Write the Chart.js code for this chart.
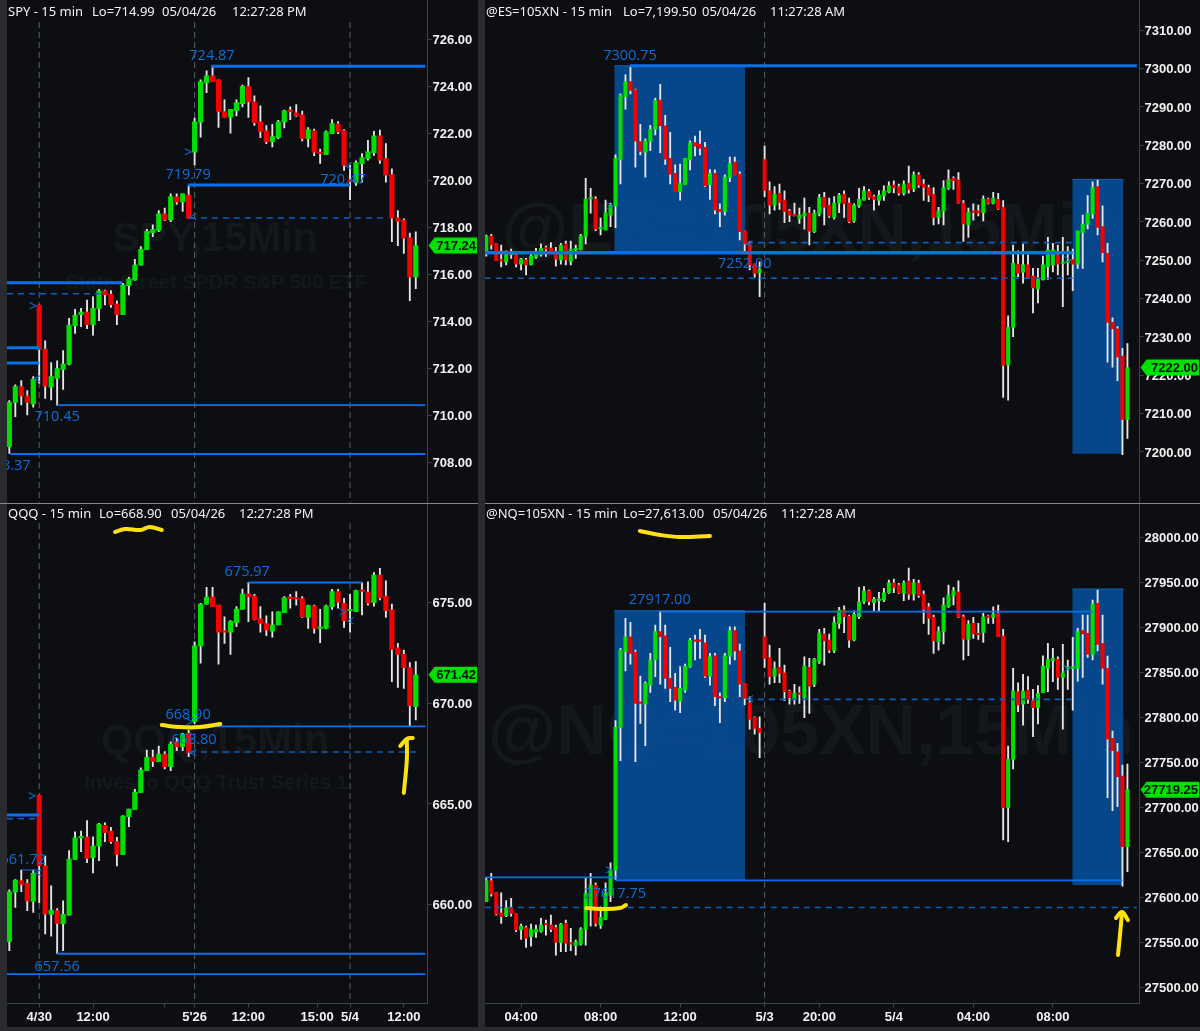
<!DOCTYPE html>
<html>
<head>
<meta charset="utf-8">
<title>Index futures 15 min</title>
<script src="https://cdn.jsdelivr.net/npm/chart.js@4"></script>
<style>
  html, body { margin: 0; padding: 0; background: #2a2b2e; width: 1200px; height: 1031px; overflow: hidden; }
  canvas { position: absolute; background: #0c0e11; }
  .sep { position: absolute; height: 1px; top: 503px; background: #85868a; }
</style>
</head>
<body>
<canvas id="spy" width="471" height="503" style="left:7px;top:0"></canvas>
<canvas id="es" width="715" height="503" style="left:485px;top:0"></canvas>
<canvas id="qqq" width="471" height="523" style="left:7px;top:504px"></canvas>
<canvas id="nq" width="715" height="523" style="left:485px;top:504px"></canvas>
<div class="sep" style="left:0;width:478px"></div>
<div class="sep" style="left:485px;width:715px"></div>
<script>
/* global Chart */

// bars are [open, high, low, close]
const spyBars = [
  [708.68,710.64,708.39,710.57],[710.56,711.31,709.96,711.24],[711.24,711.49,710.46,710.84],[710.85,711.07,710.03,710.56],
  [710.50,711.66,710.36,711.56],[714.71,714.71,711.38,712.82],[712.84,713.19,710.74,711.26],[711.21,712.26,710.67,711.66],
  [711.59,712.34,710.44,712.00],[711.97,712.77,711.12,712.20],[712.19,714.14,712.16,713.86],[713.83,714.53,713.50,714.28],
  [714.30,714.57,713.79,714.41],[714.41,714.92,713.70,713.87],[713.87,715.06,713.43,714.57],[714.55,715.38,714.04,715.31],
  [715.31,715.35,714.71,715.15],[715.18,715.32,714.61,714.72],[714.75,714.89,713.87,714.30],[714.30,715.63,714.30,715.56],
  [715.53,715.89,715.14,715.82],[715.77,716.65,715.77,716.41],[716.41,717.20,716.41,717.08],[717.06,717.93,717.06,717.84],
  [717.79,718.12,717.62,717.92],[717.88,718.73,717.83,718.59],[718.59,718.83,718.30,718.33],[718.33,719.44,718.26,719.32],
  [719.31,719.44,718.99,719.10],[719.10,719.44,718.69,719.44],[719.39,719.79,718.40,718.40],[721.21,722.66,720.67,722.51],
  [722.49,724.29,721.85,724.22],[724.17,724.68,723.75,724.46],[724.46,724.90,724.22,724.22],[724.29,724.29,722.27,722.95],
  [722.94,723.44,722.70,722.70],[722.70,723.04,722.02,723.04],[722.98,723.44,722.76,723.32],[723.28,724.07,723.14,724.02],
  [724.02,724.39,722.69,723.36],[723.36,723.61,722.35,722.47],[722.50,723.19,721.83,722.10],[722.12,722.35,721.58,721.66],
  [721.66,722.40,721.44,721.88],[721.83,722.57,721.79,722.50],[722.50,723.00,722.25,722.97],[722.99,723.14,722.60,722.94],
  [722.89,723.24,722.74,722.77],[722.80,722.96,721.69,721.79],[721.79,722.26,721.44,722.18],[722.12,722.20,721.07,721.21],
  [721.21,721.35,720.73,721.15],[721.11,722.12,721.11,722.08],[722.00,722.60,722.00,722.43],[722.42,722.52,722.00,722.08],
  [722.13,722.18,720.44,720.65],[720.04,720.65,719.19,719.96],[719.93,720.84,719.80,720.77],[720.72,721.15,719.94,720.98],
  [720.94,721.72,720.87,721.24],[721.19,722.10,721.08,721.91],[721.91,722.15,720.73,720.87],[720.94,721.58,719.94,720.23],
  [720.26,720.51,717.41,718.41],[718.42,718.73,717.24,718.27],[718.31,718.38,716.91,717.55],[717.58,717.77,714.90,715.89],
  [715.89,717.82,715.41,717.24]
];
const spyTicks = [708, 710, 712, 714, 716, 718, 720, 722, 724, 726];

const esBars = [
  [7251.8,7256.6,7251.1,7256.3],[7256.3,7256.8,7252.9,7254.0],[7254.3,7254.3,7249.9,7249.9],[7250.1,7254.0,7248.3,7249.8],
  [7249.6,7252.5,7248.8,7251.4],[7251.4,7252.9,7250.5,7251.8],[7251.4,7251.8,7248.3,7249.0],[7249.0,7250.5,7247.5,7250.3],
  [7250.1,7250.5,7246.2,7248.8],[7248.8,7252.2,7248.8,7251.1],[7250.8,7253.1,7250.5,7252.0],[7251.4,7254.3,7251.1,7253.1],
  [7253.2,7253.7,7251.0,7252.9],[7253.2,7254.6,7251.8,7252.0],[7252.3,7253.4,7248.5,7250.3],[7250.1,7254.4,7249.0,7254.0],
  [7254.3,7255.0,7248.8,7250.1],[7249.7,7255.0,7248.8,7252.9],[7252.7,7254.0,7250.5,7252.9],[7252.7,7256.8,7252.7,7256.4],
  [7256.2,7271.4,7254.3,7266.0],[7266.0,7268.8,7262.3,7266.2],[7266.0,7266.6,7257.7,7258.1],[7258.2,7261.0,7256.6,7258.3],
  [7257.9,7265.7,7257.9,7262.4],[7261.8,7264.9,7258.8,7264.4],[7264.2,7277.5,7258.5,7276.6],[7276.2,7293.4,7269.9,7293.1],
  [7292.7,7298.4,7289.4,7296.6],[7296.6,7300.5,7293.4,7294.3],[7294.5,7294.7,7274.3,7281.1],[7281.0,7285.5,7277.5,7278.4],
  [7278.2,7281.7,7271.7,7281.2],[7281.1,7285.2,7278.6,7284.2],[7284.2,7292.3,7282.7,7291.7],[7291.8,7295.9,7278.1,7285.1],
  [7285.1,7287.8,7275.0,7276.4],[7276.6,7283.4,7269.9,7272.5],[7272.7,7274.9,7267.9,7267.9],[7267.9,7275.1,7265.7,7270.1],
  [7269.7,7276.6,7269.7,7276.6],[7276.2,7281.2,7273.6,7280.7],[7280.7,7282.4,7277.2,7279.8],[7280.3,7283.7,7277.5,7279.2],
  [7279.5,7280.8,7269.2,7269.4],[7269.7,7273.7,7265.9,7272.7],[7272.7,7273.6,7262.1,7263.1],[7263.3,7264.7,7258.8,7262.7],
  [7262.7,7272.3,7261.8,7271.7],[7271.6,7276.9,7270.5,7275.3],[7275.6,7276.9,7272.3,7272.3],[7272.5,7273.1,7255.3,7257.5],
  [7257.7,7257.7,7252.3,7254.3],[7254.3,7254.9,7247.5,7248.8],[7249.0,7249.0,7245.6,7246.6],[7246.8,7249.6,7240.5,7247.6],
  [7276.3,7279.8,7266.6,7268.2],[7268.1,7270.5,7262.1,7264.4],[7264.4,7269.2,7263.1,7267.3],[7267.5,7269.9,7263.3,7265.1],
  [7265.7,7268.1,7259.8,7262.7],[7262.9,7263.3,7260.1,7261.8],[7261.8,7264.9,7261.6,7261.6],[7260.8,7263.6,7259.6,7261.8],
  [7261.6,7266.2,7258.1,7262.3],[7262.3,7263.8,7254.0,7257.6],[7257.5,7263.1,7257.2,7262.3],[7262.1,7267.2,7261.6,7266.4],
  [7266.4,7267.7,7259.2,7263.8],[7264.4,7266.2,7261.2,7261.6],[7261.2,7266.6,7260.7,7264.9],[7264.9,7267.5,7262.4,7267.0],
  [7267.2,7268.1,7261.2,7264.7],[7264.9,7266.2,7259.8,7260.1],[7260.3,7264.7,7259.9,7264.4],[7264.2,7268.8,7263.8,7265.9],
  [7265.7,7269.2,7265.7,7268.1],[7267.9,7268.5,7265.9,7266.4],[7266.6,7267.0,7263.1,7265.9],[7265.6,7268.2,7264.4,7267.0],
  [7266.8,7269.4,7265.6,7268.1],[7267.8,7270.5,7267.6,7269.4],[7269.6,7270.7,7267.6,7268.9],[7269.2,7269.9,7267.0,7267.5],
  [7267.5,7270.7,7267.0,7269.9],[7270.1,7274.6,7267.5,7268.5],[7268.6,7273.1,7267.9,7272.3],[7272.3,7272.9,7269.0,7269.6],
  [7269.9,7271.1,7265.6,7269.0],[7269.0,7269.6,7265.3,7267.0],[7267.2,7269.0,7259.2,7261.2],[7261.2,7263.8,7259.5,7262.9],
  [7262.9,7270.8,7259.2,7269.0],[7268.8,7273.6,7268.5,7271.1],[7271.4,7271.8,7268.5,7270.8],[7270.9,7272.9,7264.9,7265.0],
  [7264.9,7265.6,7254.9,7259.5],[7259.2,7263.6,7256.0,7262.6],[7262.9,7264.7,7260.5,7262.5],[7262.9,7264.4,7261.6,7262.3],
  [7262.4,7266.8,7260.3,7266.0],[7266.0,7266.2,7264.7,7264.9],[7264.9,7267.7,7264.7,7266.2],[7265.9,7267.5,7263.3,7263.5],
  [7263.8,7265.6,7214.2,7222.6],[7222.7,7235.5,7213.5,7232.5],[7232.5,7254.0,7230.1,7249.2],[7249.0,7252.5,7245.7,7246.6],
  [7246.9,7254.2,7244.0,7248.8],[7248.8,7251.4,7245.3,7245.5],[7245.9,7247.9,7236.3,7242.8],[7242.5,7247.9,7238.9,7245.0],
  [7244.9,7251.1,7244.9,7248.8],[7248.3,7256.0,7245.0,7252.7],[7248.8,7254.4,7247.0,7252.7],[7251.4,7254.0,7246.2,7249.0],
  [7249.2,7256.0,7237.9,7249.4],[7249.4,7253.6,7246.2,7249.9],[7250.2,7252.9,7242.1,7249.0],[7249.0,7257.6,7247.9,7257.6],
  [7257.2,7261.8,7247.9,7259.4],[7259.4,7266.9,7258.2,7262.3],[7262.1,7270.5,7260.9,7269.0],[7269.2,7270.9,7256.6,7258.6],
  [7258.8,7264.2,7249.6,7252.0],[7251.8,7254.4,7223.4,7233.8],[7233.8,7235.0,7222.1,7232.1],[7232.1,7232.7,7218.6,7224.8],
  [7225.0,7227.0,7199.3,7208.5],[7208.5,7228.3,7203.5,7222.0]
];
const esTicks = [7200, 7210, 7220, 7230, 7240, 7250, 7260, 7270, 7280, 7290, 7300, 7310];

const qqqBars = [
  [658.16,660.73,657.71,660.64],[660.62,661.25,659.86,661.22],[661.19,661.72,660.64,661.01],[661.06,661.25,659.70,660.18],
  [660.16,661.72,659.62,661.55],[665.44,665.44,660.10,661.93],[661.93,662.41,658.54,659.53],[659.52,660.94,658.44,659.73],
  [659.70,659.81,657.58,659.07],[659.04,660.19,657.71,659.52],[659.48,662.68,659.48,662.26],[662.25,663.62,662.25,663.32],
  [663.32,663.66,662.63,663.36],[663.36,664.17,662.08,662.30],[662.33,663.37,661.58,662.91],[662.91,664.04,662.18,664.00],
  [663.94,664.07,663.13,663.57],[663.66,663.84,663.04,663.13],[663.13,663.34,661.92,662.50],[662.48,664.42,662.48,664.40],
  [664.37,664.75,663.87,664.75],[664.72,665.73,664.72,665.59],[665.56,666.80,665.56,666.69],[666.65,667.68,666.65,667.32],
  [667.32,667.68,666.85,667.12],[667.10,667.88,667.10,667.48],[667.48,667.60,666.74,666.85],[666.85,668.09,666.65,667.98],
  [668.09,668.26,667.65,667.85],[667.85,668.51,667.65,668.47],[668.51,668.67,667.35,667.56],[669.09,673.06,669.00,672.86],
  [672.85,674.97,671.99,674.93],[674.93,675.76,674.93,675.28],[675.28,675.76,674.80,674.80],[674.88,674.88,671.94,673.53],
  [673.58,674.30,672.98,673.53],[673.53,674.11,672.43,674.06],[674.00,674.80,673.81,674.68],[674.67,675.68,674.67,675.43],
  [675.43,676.00,674.06,675.30],[675.33,675.41,674.14,674.17],[674.20,674.80,673.53,673.97],[673.96,674.35,673.36,673.64],
  [673.58,674.55,673.28,673.89],[673.89,674.55,673.89,674.55],[674.50,675.30,674.50,675.25],[675.25,675.41,674.72,675.20],
  [675.23,675.55,674.88,675.18],[675.20,675.30,674.27,674.30],[674.27,674.88,673.72,674.85],[674.83,674.88,673.48,673.72],
  [673.72,674.67,673.01,673.76],[673.72,674.88,673.69,674.83],[674.80,675.66,674.67,675.55],[675.55,675.66,674.72,675.02],
  [674.97,675.21,673.77,674.11],[674.60,675.41,673.53,674.67],[674.55,675.63,674.55,675.60],[675.61,676.00,674.39,675.56],
  [675.53,676.04,674.88,674.97],[675.00,676.49,674.83,676.37],[676.37,676.71,675.13,675.23],[675.33,676.09,674.27,674.60],
  [674.64,674.93,671.07,672.68],[672.76,672.98,670.79,672.43],[672.43,672.65,670.74,671.77],[671.77,672.02,668.84,669.88],
  [669.83,672.07,669.17,671.42]
];
const qqqTicks = [660, 665, 670, 675];

const nqBars = [
  [27594.7,27620.7,27594.7,27618.1],[27618.1,27626.2,27601.0,27603.3],[27604.7,27604.7,27579.9,27581.0],[27582.5,27604.7,27570.7,27578.1],
  [27579.2,27595.9,27578.1,27588.1],[27587.7,27598.5,27578.8,27581.8],[27581.8,27581.8,27561.4,27563.3],[27563.3,27569.9,27552.9,27567.7],
  [27565.9,27567.7,27544.0,27554.0],[27555.9,27569.9,27545.5,27564.0],[27561.0,27568.8,27555.1,27564.4],[27561.8,27576.2,27561.0,27569.2],
  [27570.7,27574.4,27557.7,27569.2],[27569.2,27579.9,27561.4,27564.0],[27565.9,27568.8,27535.5,27549.5],[27549.2,27570.7,27539.2,27569.9],
  [27570.7,27574.4,27539.2,27548.4],[27549.2,27565.1,27540.3,27547.7],[27545.8,27552.1,27535.5,27550.3],[27547.7,27565.9,27546.6,27564.4],
  [27564.0,27620.7,27546.6,27604.0],[27587.3,27626.2,27567.7,27613.3],[27613.3,27615.8,27567.7,27570.7],[27568.8,27589.2,27565.1,27577.3],
  [27575.1,27615.8,27575.1,27604.0],[27602.1,27638.1,27594.7,27629.9],[27629.9,27795.9,27619.6,27788.5],[27788.1,27876.2,27751.4,27874.4],
  [27872.5,27909.6,27851.1,27889.2],[27889.2,27905.1,27858.8,27870.7],[27872.2,27874.4,27750.3,27815.1],[27816.2,27845.5,27792.9,27815.1],
  [27814.4,27839.2,27768.1,27837.4],[27835.5,27870.7,27827.4,27863.3],[27863.3,27902.2,27844.8,27894.8],[27894.8,27917.0,27836.6,27889.2],
  [27890.3,27902.2,27831.8,27842.9],[27842.9,27877.4,27817.0,27831.8],[27832.9,27848.5,27807.7,27818.8],[27817.7,27855.9,27804.8,27831.8],
  [27829.9,27858.8,27827.4,27856.6],[27855.9,27887.4,27855.1,27885.5],[27885.5,27891.1,27863.3,27884.0],[27885.5,27897.4,27865.1,27884.0],
  [27882.5,27891.1,27844.0,27845.5],[27845.5,27870.7,27835.5,27867.0],[27868.1,27870.7,27812.5,27822.5],[27822.2,27827.0,27793.6,27821.0],
  [27821.4,27870.7,27817.0,27868.1],[27867.7,27900.3,27858.8,27895.9],[27895.9,27900.3,27863.3,27873.3],[27873.6,27881.1,27822.5,27836.6],
  [27837.4,27837.4,27813.3,27820.7],[27815.9,27822.5,27786.6,27797.3],[27799.6,27800.3,27781.0,27787.3],[27787.3,27800.3,27754.8,27782.5],
  [27889.2,27926.2,27855.1,27865.1],[27865.9,27879.9,27836.6,27844.8],[27845.5,27861.4,27838.1,27854.0],[27855.1,27876.2,27838.1,27848.5],
  [27849.2,27857.7,27818.1,27828.1],[27828.8,27829.9,27814.4,27821.4],[27819.9,27836.2,27814.4,27826.2],[27826.2,27833.6,27815.1,27825.1],
  [27821.8,27867.0,27799.2,27856.6],[27855.1,27865.1,27804.0,27834.4],[27836.2,27865.1,27833.6,27864.0],[27861.4,27897.4,27859.6,27892.9],
  [27892.2,27898.5,27857.7,27884.4],[27885.5,27892.2,27871.4,27874.4],[27873.6,27911.4,27871.4,27904.8],[27904.0,27921.8,27898.5,27918.8],
  [27918.8,27923.6,27893.6,27911.4],[27912.2,27913.3,27877.4,27885.5],[27885.5,27918.1,27884.4,27914.0],[27911.4,27944.0,27909.2,27928.1],
  [27928.1,27944.8,27926.2,27940.3],[27939.9,27941.1,27924.4,27928.1],[27927.0,27932.9,27918.1,27930.7],[27929.2,27938.5,27918.1,27931.4],
  [27929.9,27942.9,27928.1,27938.1],[27938.1,27952.2,27937.4,27949.2],[27949.2,27953.3,27938.1,27944.0],[27946.6,27948.5,27937.4,27938.1],
  [27937.4,27951.4,27929.2,27949.2],[27951.1,27965.5,27930.7,27936.2],[27936.6,27952.9,27929.9,27949.2],[27948.5,27952.2,27932.9,27934.8],
  [27936.2,27940.3,27904.0,27919.6],[27922.5,27926.2,27891.8,27909.6],[27910.7,27913.3,27870.7,27884.4],[27883.7,27900.3,27874.4,27894.8],
  [27894.8,27932.5,27881.1,27924.4],[27922.5,27946.6,27921.8,27935.5],[27934.8,27944.0,27924.4,27940.3],[27938.8,27951.4,27910.7,27911.4],
  [27911.4,27913.3,27863.3,27886.6],[27886.3,27907.0,27868.1,27902.9],[27904.0,27910.7,27887.4,27892.2],[27892.9,27904.0,27886.3,27891.4],
  [27894.0,27915.1,27882.9,27911.4],[27912.2,27913.3,27904.0,27910.7],[27910.7,27922.5,27904.0,27914.0],[27915.1,27924.4,27889.2,27889.2],
  [27889.9,27897.4,27663.3,27699.2],[27699.2,27767.7,27661.4,27752.9],[27752.9,27854.0,27742.2,27828.8],[27828.1,27838.1,27805.9,27813.3],
  [27814.4,27847.4,27791.0,27828.8],[27829.9,27844.8,27815.1,27819.6],[27818.1,27830.7,27778.1,27810.3],[27810.3,27834.8,27792.2,27826.2],
  [27827.0,27868.1,27827.0,27856.6],[27854.0,27881.8,27828.1,27864.0],[27862.5,27876.2,27839.2,27864.8],[27864.0,27867.0,27830.7,27844.0],
  [27844.0,27880.7,27786.6,27849.2],[27854.0,27863.3,27830.7,27855.1],[27854.0,27888.5,27807.7,27855.1],[27854.0,27898.5,27839.9,27894.8],
  [27895.9,27913.3,27844.0,27892.2],[27892.9,27913.3,27866.2,27869.9],[27869.6,27930.0,27863.3,27925.5],[27926.2,27941.1,27873.3,27880.7],
  [27881.8,27913.3,27836.6,27854.0],[27854.0,27867.7,27710.3,27775.5],[27776.2,27784.4,27695.9,27762.5],[27761.4,27770.7,27700.3,27733.6],
  [27734.4,27746.6,27612.1,27655.9],[27655.9,27747.7,27628.1,27719.25]
];
const nqTicks = [27500, 27550, 27600, 27650, 27700, 27750, 27800, 27850, 27900, 27950, 28000];

// x axis, in bar numbers
const qqqTimeAt = [5, 14, 26, 31, 40, 51.5, 57, 66];
const qqqTimes = ["4/30", "12:00", "", "5'26", "12:00", "15:00", "5/4", "12:00"];
const nqTimeAt = [7, 23, 39, 56, 67, 82, 98, 114];
const nqTimes = ["04:00", "08:00", "12:00", "5/3", "20:00", "5/4", "04:00", "08:00"];

// levels: [price, first bar, last bar, width, dashed]
const spyLevels = [
  [724.87, 33.9, 69.6, 3, 0], [719.82, 29.9, 57, 3, 0], [718.41, 30.2, 63.4, 1.6, 1],
  [710.45, 8, 69.6, 1.8, 0], [708.37, 0.1, 69.6, 1.8, 0], [715.66, -0.4, 18.9, 3, 0],
  [715.19, -0.4, 15.2, 1.6, 1], [712.89, -0.4, 5, 3, 0], [712.24, -0.4, 5, 3, 0]
];
const esLevels = [
  [7300.75, 28.9, 130.9, 3, 0], [7252, -0.3, 118, 3.5, 0], [7254.6, 52.4, 118, 1.6, 1], [7245.3, -0.3, 118, 1.6, 1]
];
const qqqLevels = [
  [676, 40, 59, 1.8, 0], [668.85, 29.9, 69.6, 1.8, 0], [667.58, 30.2, 68.9, 1.6, 1], [664.45, -0.4, 5, 3, 0],
  [664.27, -0.4, 5, 1.6, 1], [657.56, 8, 69.6, 1.8, 0], [656.55, -0.4, 69.6, 1.8, 0], [661.72, 2.1, 4.9, 1.2, 0]
];
const nqLevels = [
  [27917, 35, 122, 1.8, 0], [27621.8, -0.3, 26, 1.8, 0], [27618.4, 26, 128, 1.8, 0],
  [27588.4, -0.3, 130.9, 1.6, 1], [27819.6, 52.4, 118, 1.6, 1]
];

// shaded zones: [first bar, last bar, top price, bottom price]
const esZones = [[25.75, 52.05, 7300.75, 7252], [117.9, 128.2, 7271.1, 7199.5]];
const nqZones = [[25.75, 52.05, 27918.1, 27618.8], [117.9, 128.2, 27942.2, 27613.3]];

// price notes: [text, bar, price]
const spyNotes = [
  ["724.87", 33.9, 725.31], ["719.79", 29.9, 720.24], ["720.47", 55.8, 720.03], ["710.45", 8, 709.94], ["708.37", -0.22, 707.86],
  [">", 29.9, 721.18], ["<", 30.7, 718.41], [">", 4, 714.63], ["<", 4.6, 711.52], ["<", 56.7, 720.58]
];
const esNotes = [
  ["7300.75", 28.9, 7303.3], ["7252.00", 52, 7249], [">", 24.9, 7263.9], ["<", 52.9, 7254], [">", 117, 7249.8]
];
const qqqNotes = [
  ["675.97", 39.8, 676.53], ["668.90", 29.9, 669.42], ["668.80", 30.9, 668.18], ["657.56", 8, 656.9], ["661.72", 2.3, 662.22],
  [">", 3.8, 665.35], ["<", 4.8, 661.52], ["<", 30.7, 667.48], [">", 55.8, 674.49], ["<", 57, 674.04], [">", 30.2, 669.02]
];
const nqNotes = [
  ["27917.00", 34.9, 27930], ["27617.75", 25.9, 27603.3], [">", 24.7, 27628.9], ["<", 53, 27818.9], [">", 116.8, 27852.2]
];

// hand drawn yellow marks on the two lower panels: [bar, price]
const qqqInk = [
  [[17.7, 678.51], [19.4, 678.66], [21.9, 678.61], [23.5, 678.76], [25.5, 678.61]],
  [[25.5, 668.92], [28.5, 668.82], [31.9, 668.82], [35.3, 668.97]],
  [[66, 665.55], [66.5, 667.19], [66.5, 668.18]],
  [[65.4, 667.88], [66.5, 668.23], [67.5, 668.28]]
];
const nqInk = [
  [[30.9, 28006.7], [35, 28002.2], [39, 28000], [45, 28001.1]],
  [[20.1, 27587.8], [23.9, 27586.7], [26.9, 27587.8], [28.1, 27591]],
  [[127.1, 27535.6], [127.5, 27557.8], [127.9, 27582.2]],
  [[126.7, 27576.7], [127.9, 27583.3], [129.1, 27574.4]]
];

const GREEN = "#00e000";
const RED = "#f40000";
const BLUE = "#0a70ea";
const AXIS_LINE = "#3f4246";

/* headers, watermarks and price tag all go through this one plugin */
const panelText = {
  id: "panelText",
  beforeDatasetsDraw(chart, args, o) {
    const ctx = chart.ctx;
    ctx.save();
    ctx.fillStyle = "#14171b";
    ctx.textAlign = "center";
    ctx.textBaseline = "middle";
    o.marks.forEach((m) => {
      ctx.font = `bold ${m[1]}px 'Liberation Sans'`;
      ctx.fillText(m[0], m[2], m[3]);
    });
    ctx.restore();
  },
  afterDraw(chart, args, o) {
    const ctx = chart.ctx;
    const { x, y } = chart.scales;
    const area = chart.chartArea;
    ctx.save();
    ctx.beginPath();
    ctx.rect(area.left, area.top, area.right - area.left, area.bottom - area.top);
    ctx.clip();
    ctx.fillStyle = "#0a6fdc";
    ctx.font = "14.5px 'Open Sans'";
    ctx.textAlign = "center";
    ctx.textBaseline = "middle";
    o.notes.forEach((n) => ctx.fillText(n[0], x.getPixelForValue(n[1]), y.getPixelForValue(n[2])));
    ctx.restore();

    ctx.save();
    ctx.fillStyle = "#f2f2f2";
    ctx.font = "13px 'Noto Sans'";
    ctx.textAlign = "left";
    ctx.textBaseline = "middle";
    o.header.forEach((h) => ctx.fillText(h[0], h[1], o.headerY));

    // last price tag
    const ty = y.getPixelForValue(o.last);
    const left = area.right + 1;
    const right = chart.width - 1;
    ctx.fillStyle = GREEN;
    ctx.beginPath();
    ctx.moveTo(left, ty);
    ctx.lineTo(left + 6, ty - 8);
    ctx.lineTo(right, ty - 8);
    ctx.lineTo(right, ty + 8);
    ctx.lineTo(left + 6, ty + 8);
    ctx.closePath();
    ctx.fill();
    ctx.fillStyle = "#06140a";
    ctx.font = "bold 13px 'Liberation Sans'";
    ctx.textAlign = "right";
    ctx.fillText(o.lastLabel, right - 1, ty + 0.5);
    ctx.restore();
  },
};

function lineSet(points, color, width, order, extra) {
  return {
    type: "line",
    data: points,
    borderColor: color,
    borderWidth: width,
    pointRadius: 0,
    order,
    ...extra,
  };
}

function drawPanel(id, p) {
  const bars = p.bars;
  const colors = bars.map((b) => (b[3] >= b[0] ? GREEN : RED));
  const datasets = [];

  (p.zones || []).forEach((z) => {
    datasets.push(lineSet([{ x: z[0], y: z[2] }, { x: z[1], y: z[2] }], "#1262ae", 1, 6, {
      fill: { value: z[3] },
      backgroundColor: "rgba(6,77,151,0.9)",
    }));
  });
  p.guides.forEach((g) => {
    datasets.push(lineSet([{ x: g, y: p.guideTop }, { x: g, y: p.min }], "#5c5f64", 1, 5, { borderDash: [6, 4] }));
  });
  datasets.push({
    data: bars.map((b, i) => ({ x: i, y: [b[2], b[1]] })),
    backgroundColor: "#e6e6e6",
    barThickness: 1.2,
    grouped: false,
    order: 4,
  });
  datasets.push({
    data: bars.map((b, i) => ({ x: i, y: [b[0], b[3]] })),
    backgroundColor: colors,
    barThickness: p.bodyWidth,
    minBarLength: 1.5,
    grouped: false,
    order: 3,
  });
  p.levels.forEach((l) => {
    datasets.push(lineSet([{ x: l[1], y: l[0] }, { x: l[2], y: l[0] }], l[4] ? "#0b5fbe" : BLUE, l[3], 2,
      l[4] ? { borderDash: [6, 5] } : {}));
  });
  (p.ink || []).forEach((s) => {
    datasets.push(lineSet(s.map((q) => ({ x: q[0], y: q[1] })), "#ffe010", 4, 1, {
      tension: 0.4,
      borderCapStyle: "round",
    }));
  });

  new Chart(document.getElementById(id), {
    type: "bar",
    data: { datasets },
    options: {
      responsive: false,
      animation: false,
      events: [],
      layout: { padding: 0 },
      plugins: {
        legend: { display: false },
        tooltip: { enabled: false },
        panelText: {
          marks: p.marks,
          notes: p.notes,
          header: p.header,
          headerY: p.headerY,
          last: bars[bars.length - 1][3],
          lastLabel: p.lastLabel,
        },
      },
      scales: {
        x: {
          type: "linear",
          display: !!p.times,
          offset: false,
          min: p.xMin,
          max: p.xMax,
          border: { color: AXIS_LINE },
          grid: { offset: false, drawOnChartArea: false, tickLength: 4, tickColor: AXIS_LINE },
          afterBuildTicks: (s) => {
            s.ticks = (p.timeAt || []).map((v) => ({ value: v }));
          },
          afterFit: (s) => {
            s.height = p.times ? 23.7 : 0;
            s.paddingLeft = 0;
            s.paddingRight = 0;
          },
          ticks: {
            autoSkip: false,
            maxRotation: 0,
            padding: 2,
            color: "#f2f2f2",
            font: { family: "'Liberation Sans'", size: 13, weight: "bold" },
            callback: (v, i) => (p.times ? p.times[i] : ""),
          },
        },
        y: {
          type: "linear",
          position: "right",
          min: p.min,
          max: p.max,
          border: { color: AXIS_LINE },
          grid: { drawOnChartArea: false, tickLength: 4, tickColor: AXIS_LINE },
          afterBuildTicks: (s) => {
            s.ticks = p.ticks.map((v) => ({ value: v }));
          },
          afterFit: (s) => {
            s.width = p.axisWidth;
            s.paddingTop = 0;
            s.paddingBottom = 0;
          },
          ticks: {
            autoSkip: false,
            padding: 1,
            labelOffset: 1,
            color: "#f2f2f2",
            font: { family: "'Liberation Sans'", size: 13, weight: "bold" },
            callback: (v) => Number(v).toFixed(2),
          },
        },
      },
    },
    plugins: [panelText],
  });
}

drawPanel("spy", {
  bars: spyBars, ticks: spyTicks, levels: spyLevels, notes: spyNotes,
  min: 706.285, max: 727.689, xMin: -0.39, xMax: 69.96, axisWidth: 50.5, bodyWidth: 4.5,
  guides: [5, 31, 57], guideTop: 726.75, lastLabel: "717.24", headerY: 12,
  header: [["SPY - 15 min", 1], ["Lo=714.99", 85], ["05/04/26", 155], ["12:27:28 PM", 225]],
  marks: [["SPY,15Min", 41, 208, 240], ["State Street SPDR S&P 500 ETF", 20, 209, 283]],
});

drawPanel("es", {
  bars: esBars, ticks: esTicks, levels: esLevels, notes: esNotes, zones: esZones,
  min: 7186.68, max: 7317.91, xMin: -0.26, xMax: 131.43, axisWidth: 60.5, bodyWidth: 3.4,
  guides: [56], guideTop: 7312.2, lastLabel: "7222.00", headerY: 12,
  header: [["@ES=105XN - 15 min", 1], ["Lo=7,199.50", 138], ["05/04/26", 217], ["11:27:28 AM", 285]],
  marks: [["@ES=105XN,15Min", 68, 325, 232]],
});

drawPanel("qqq", {
  bars: qqqBars, ticks: qqqTicks, levels: qqqLevels, notes: qqqNotes, ink: qqqInk,
  min: 655.1, max: 679.9, xMin: -0.39, xMax: 69.96, axisWidth: 50.5, bodyWidth: 4.5,
  guides: [5, 31, 57], guideTop: 678.95, lastLabel: "671.42", headerY: 10,
  times: qqqTimes, timeAt: qqqTimeAt,
  header: [["QQQ - 15 min", 1], ["Lo=668.90", 92], ["05/04/26", 164], ["12:27:28 PM", 232]],
  marks: [["QQQ,15Min", 42, 208, 238], ["Invesco QQQ Trust Series 1", 20, 209, 279]],
});

drawPanel("nq", {
  bars: nqBars, ticks: nqTicks, levels: nqLevels, notes: nqNotes, zones: nqZones, ink: nqInk,
  min: 27481.9, max: 28036.67, xMin: -0.26, xMax: 131.43, axisWidth: 60.5, bodyWidth: 3.4,
  guides: [56], guideTop: 28017, lastLabel: "27719.25", headerY: 10,
  times: nqTimes, timeAt: nqTimeAt,
  header: [["@NQ=105XN - 15 min", 1], ["Lo=27,613.00", 138], ["05/04/26", 228], ["11:27:28 AM", 296]],
  marks: [["@NQ=105XN,15Min", 70, 326, 231]],
});
</script>
</body>
</html>
